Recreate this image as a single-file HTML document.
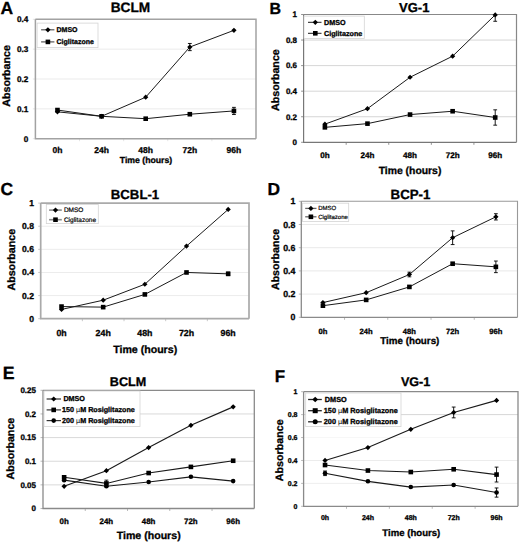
<!DOCTYPE html>
<html><head><meta charset="utf-8"><title>Figure</title>
<style>
html,body{margin:0;padding:0;background:#fff;}
svg{display:block;font-family:"Liberation Sans",sans-serif;text-rendering:geometricPrecision;}
text{stroke:#000;stroke-width:0.3px;} text[font-weight="normal"]{stroke-width:0.2px;} tspan{stroke:none;}
</style></head>
<body>
<svg width="520" height="544" viewBox="0 0 520 544">
<rect width="520" height="544" fill="#fff"/>
<line x1="35.4" y1="108.85" x2="256" y2="108.85" stroke="#ebebeb" stroke-width="1"/>
<line x1="35.4" y1="79" x2="256" y2="79" stroke="#ebebeb" stroke-width="1"/>
<line x1="35.4" y1="49.15" x2="256" y2="49.15" stroke="#ebebeb" stroke-width="1"/>
<line x1="32.9" y1="138.7" x2="35.4" y2="138.7" stroke="#e0e0e0" stroke-width="0.8"/>
<line x1="32.9" y1="108.85" x2="35.4" y2="108.85" stroke="#e0e0e0" stroke-width="0.8"/>
<line x1="32.9" y1="79" x2="35.4" y2="79" stroke="#e0e0e0" stroke-width="0.8"/>
<line x1="32.9" y1="49.15" x2="35.4" y2="49.15" stroke="#e0e0e0" stroke-width="0.8"/>
<line x1="32.9" y1="19.3" x2="35.4" y2="19.3" stroke="#e0e0e0" stroke-width="0.8"/>
<line x1="79.52" y1="138.7" x2="79.52" y2="141.2" stroke="#e0e0e0" stroke-width="0.8"/>
<line x1="123.64" y1="138.7" x2="123.64" y2="141.2" stroke="#e0e0e0" stroke-width="0.8"/>
<line x1="167.76" y1="138.7" x2="167.76" y2="141.2" stroke="#e0e0e0" stroke-width="0.8"/>
<line x1="211.88" y1="138.7" x2="211.88" y2="141.2" stroke="#e0e0e0" stroke-width="0.8"/>
<path d="M35.4 19.3H256V138.7" fill="none" stroke="#a2a2a2" stroke-width="1.5"/>
<path d="M35.4 19.3V138.7H256" fill="none" stroke="#a2a2a2" stroke-width="1.5"/>
<text x="28.3" y="141.53" text-anchor="end" font-size="8.2" font-weight="bold">0</text>
<text x="28.3" y="111.68" text-anchor="end" font-size="8.2" font-weight="bold">0.1</text>
<text x="28.3" y="81.83" text-anchor="end" font-size="8.2" font-weight="bold">0.2</text>
<text x="28.3" y="51.98" text-anchor="end" font-size="8.2" font-weight="bold">0.3</text>
<text x="28.3" y="22.13" text-anchor="end" font-size="8.2" font-weight="bold">0.4</text>
<text x="57.46" y="152.8" text-anchor="middle" font-size="8.5" font-weight="bold">0h</text>
<text x="101.58" y="152.8" text-anchor="middle" font-size="8.5" font-weight="bold">24h</text>
<text x="145.7" y="152.8" text-anchor="middle" font-size="8.5" font-weight="bold">48h</text>
<text x="189.82" y="152.8" text-anchor="middle" font-size="8.5" font-weight="bold">72h</text>
<text x="233.94" y="152.8" text-anchor="middle" font-size="8.5" font-weight="bold">96h</text>
<text x="146" y="162.5" text-anchor="middle" font-size="8.7" font-weight="bold">Time (hours)</text>
<text transform="translate(10.3 75.9) rotate(-90)" text-anchor="middle" font-size="10.7" font-weight="bold">Absorbance</text>
<text x="130.4" y="11.5" text-anchor="middle" font-size="13.7" font-weight="bold">BCLM</text>
<text x="0.6" y="14.4" font-size="17.5" font-weight="bold">A</text>
<clipPath id="clipA"><rect x="35.4" y="18.8" width="220.6" height="119.9"/></clipPath>
<polyline points="57.46,111.83 101.58,116.31 145.7,97.21 189.82,47.06 233.94,30.34" fill="none" stroke="#1a1a1a" stroke-width="1"/>
<g clip-path="url(#clipA)" stroke="#000" stroke-width="0.9"><line x1="189.82" y1="43.48" x2="189.82" y2="50.64"/><line x1="187.92" y1="43.48" x2="191.72" y2="43.48"/><line x1="187.92" y1="50.64" x2="191.72" y2="50.64"/></g>
<path d="M57.46 109.21L60.08 111.83L57.46 114.46L54.84 111.83Z" fill="#000"/>
<path d="M101.58 113.69L104.2 116.31L101.58 118.93L98.96 116.31Z" fill="#000"/>
<path d="M145.7 94.59L148.32 97.21L145.7 99.83L143.08 97.21Z" fill="#000"/>
<path d="M189.82 44.44L192.44 47.06L189.82 49.68L187.2 47.06Z" fill="#000"/>
<path d="M233.94 27.72L236.56 30.34L233.94 32.97L231.32 30.34Z" fill="#000"/>
<polyline points="57.46,110.04 101.58,116.31 145.7,118.7 189.82,114.22 233.94,110.94" fill="none" stroke="#1a1a1a" stroke-width="1"/>
<g clip-path="url(#clipA)" stroke="#000" stroke-width="0.9"><line x1="233.94" y1="107.36" x2="233.94" y2="114.52"/><line x1="232.04" y1="107.36" x2="235.84" y2="107.36"/><line x1="232.04" y1="114.52" x2="235.84" y2="114.52"/></g>
<rect x="55.16" y="107.74" width="4.6" height="4.6" fill="#000"/>
<rect x="99.28" y="114.01" width="4.6" height="4.6" fill="#000"/>
<rect x="143.4" y="116.4" width="4.6" height="4.6" fill="#000"/>
<rect x="187.52" y="111.92" width="4.6" height="4.6" fill="#000"/>
<rect x="231.64" y="108.64" width="4.6" height="4.6" fill="#000"/>
<rect x="37.1" y="23.1" width="60.9" height="24.5" fill="#fff" stroke="#d4d4d4" stroke-width="0.8"/>
<line x1="41.1" y1="29.8" x2="54.4" y2="29.8" stroke="#555" stroke-width="1.2"/>
<path d="M47.9 27.18L50.52 29.8L47.9 32.42L45.28 29.8Z" fill="#000"/>
<text x="56.5" y="32.22" font-size="7" font-weight="bold">DMSO</text>
<line x1="41.1" y1="41.9" x2="54.4" y2="41.9" stroke="#555" stroke-width="1.2"/>
<rect x="45.6" y="39.6" width="4.6" height="4.6" fill="#000"/>
<text x="56.5" y="44.31" font-size="7" font-weight="bold">Ciglitazone</text>
<line x1="303.6" y1="116.74" x2="516.5" y2="116.74" stroke="#d6d6d6" stroke-width="1"/>
<line x1="303.6" y1="91.18" x2="516.5" y2="91.18" stroke="#d6d6d6" stroke-width="1"/>
<line x1="303.6" y1="65.62" x2="516.5" y2="65.62" stroke="#d6d6d6" stroke-width="1"/>
<line x1="303.6" y1="40.06" x2="516.5" y2="40.06" stroke="#d6d6d6" stroke-width="1"/>
<line x1="301.1" y1="142.3" x2="303.6" y2="142.3" stroke="#777" stroke-width="0.8"/>
<line x1="301.1" y1="116.74" x2="303.6" y2="116.74" stroke="#777" stroke-width="0.8"/>
<line x1="301.1" y1="91.18" x2="303.6" y2="91.18" stroke="#777" stroke-width="0.8"/>
<line x1="301.1" y1="65.62" x2="303.6" y2="65.62" stroke="#777" stroke-width="0.8"/>
<line x1="301.1" y1="40.06" x2="303.6" y2="40.06" stroke="#777" stroke-width="0.8"/>
<line x1="301.1" y1="14.5" x2="303.6" y2="14.5" stroke="#777" stroke-width="0.8"/>
<line x1="346.18" y1="142.3" x2="346.18" y2="144.8" stroke="#777" stroke-width="0.8"/>
<line x1="388.76" y1="142.3" x2="388.76" y2="144.8" stroke="#777" stroke-width="0.8"/>
<line x1="431.34" y1="142.3" x2="431.34" y2="144.8" stroke="#777" stroke-width="0.8"/>
<line x1="473.92" y1="142.3" x2="473.92" y2="144.8" stroke="#777" stroke-width="0.8"/>
<path d="M303.6 14.5H516.5V142.3" fill="none" stroke="#888" stroke-width="1.2"/>
<path d="M303.6 14.5V142.3H516.5" fill="none" stroke="#777" stroke-width="1.2"/>
<text x="297" y="145.06" text-anchor="end" font-size="8" font-weight="bold">0</text>
<text x="297" y="119.5" text-anchor="end" font-size="8" font-weight="bold">0.2</text>
<text x="297" y="93.94" text-anchor="end" font-size="8" font-weight="bold">0.4</text>
<text x="297" y="68.38" text-anchor="end" font-size="8" font-weight="bold">0.6</text>
<text x="297" y="42.82" text-anchor="end" font-size="8" font-weight="bold">0.8</text>
<text x="297" y="17.26" text-anchor="end" font-size="8" font-weight="bold">1</text>
<text x="324.89" y="158" text-anchor="middle" font-size="8.1" font-weight="bold">0h</text>
<text x="367.47" y="158" text-anchor="middle" font-size="8.1" font-weight="bold">24h</text>
<text x="410.05" y="158" text-anchor="middle" font-size="8.1" font-weight="bold">48h</text>
<text x="452.63" y="158" text-anchor="middle" font-size="8.1" font-weight="bold">72h</text>
<text x="495.21" y="158" text-anchor="middle" font-size="8.1" font-weight="bold">96h</text>
<text x="410" y="173.6" text-anchor="middle" font-size="10.4" font-weight="bold">Time (hours)</text>
<text transform="translate(279.3 80.1) rotate(-90)" text-anchor="middle" font-size="10.7" font-weight="bold">Absorbance</text>
<text x="414.2" y="11.8" text-anchor="middle" font-size="13" font-weight="bold">VG-1</text>
<text x="269.5" y="13.5" font-size="16" font-weight="bold">B</text>
<clipPath id="clipB"><rect x="303.6" y="14" width="212.9" height="128.3"/></clipPath>
<polyline points="324.89,124.15 367.47,108.69 410.05,77.25 452.63,56.16 495.21,14.88" fill="none" stroke="#1a1a1a" stroke-width="1"/>
<g clip-path="url(#clipB)" stroke="#000" stroke-width="0.9"><line x1="495.21" y1="8.49" x2="495.21" y2="21.27"/><line x1="493.31" y1="8.49" x2="497.11" y2="8.49"/><line x1="493.31" y1="21.27" x2="497.11" y2="21.27"/></g>
<path d="M324.89 121.53L327.51 124.15L324.89 126.77L322.27 124.15Z" fill="#000"/>
<path d="M367.47 106.07L370.09 108.69L367.47 111.31L364.85 108.69Z" fill="#000"/>
<path d="M410.05 74.63L412.67 77.25L410.05 79.87L407.43 77.25Z" fill="#000"/>
<path d="M452.63 53.54L455.25 56.16L452.63 58.78L450.01 56.16Z" fill="#000"/>
<path d="M495.21 12.26L497.83 14.88L495.21 17.51L492.59 14.88Z" fill="#000"/>
<polyline points="324.89,127.35 367.47,123.64 410.05,114.57 452.63,111.24 495.21,117.51" fill="none" stroke="#1a1a1a" stroke-width="1"/>
<g clip-path="url(#clipB)" stroke="#000" stroke-width="0.9"><line x1="495.21" y1="109.84" x2="495.21" y2="125.17"/><line x1="493.31" y1="109.84" x2="497.11" y2="109.84"/><line x1="493.31" y1="125.17" x2="497.11" y2="125.17"/></g>
<rect x="322.59" y="125.05" width="4.6" height="4.6" fill="#000"/>
<rect x="365.17" y="121.34" width="4.6" height="4.6" fill="#000"/>
<rect x="407.75" y="112.27" width="4.6" height="4.6" fill="#000"/>
<rect x="450.33" y="108.94" width="4.6" height="4.6" fill="#000"/>
<rect x="492.91" y="115.21" width="4.6" height="4.6" fill="#000"/>
<rect x="304" y="16.1" width="60.3" height="22.3" fill="#fff" stroke="#d4d4d4" stroke-width="0.8"/>
<line x1="308" y1="22.3" x2="321.5" y2="22.3" stroke="#1a1a1a" stroke-width="1"/>
<path d="M315.3 19.68L317.92 22.3L315.3 24.92L312.68 22.3Z" fill="#000"/>
<text x="324" y="24.78" font-size="7.2" font-weight="bold">DMSO</text>
<line x1="308" y1="33.3" x2="321.5" y2="33.3" stroke="#1a1a1a" stroke-width="1"/>
<rect x="313" y="31" width="4.6" height="4.6" fill="#000"/>
<text x="324" y="35.78" font-size="7.2" font-weight="bold">Ciglitazone</text>
<line x1="40.7" y1="295.58" x2="249" y2="295.58" stroke="#ececec" stroke-width="1"/>
<line x1="40.7" y1="272.46" x2="249" y2="272.46" stroke="#ececec" stroke-width="1"/>
<line x1="40.7" y1="249.34" x2="249" y2="249.34" stroke="#ececec" stroke-width="1"/>
<line x1="40.7" y1="226.22" x2="249" y2="226.22" stroke="#ececec" stroke-width="1"/>
<line x1="38.2" y1="318.7" x2="40.7" y2="318.7" stroke="#bbb" stroke-width="0.8"/>
<line x1="38.2" y1="295.58" x2="40.7" y2="295.58" stroke="#bbb" stroke-width="0.8"/>
<line x1="38.2" y1="272.46" x2="40.7" y2="272.46" stroke="#bbb" stroke-width="0.8"/>
<line x1="38.2" y1="249.34" x2="40.7" y2="249.34" stroke="#bbb" stroke-width="0.8"/>
<line x1="38.2" y1="226.22" x2="40.7" y2="226.22" stroke="#bbb" stroke-width="0.8"/>
<line x1="38.2" y1="203.1" x2="40.7" y2="203.1" stroke="#bbb" stroke-width="0.8"/>
<line x1="82.36" y1="318.7" x2="82.36" y2="321.2" stroke="#bbb" stroke-width="0.8"/>
<line x1="124.02" y1="318.7" x2="124.02" y2="321.2" stroke="#bbb" stroke-width="0.8"/>
<line x1="165.68" y1="318.7" x2="165.68" y2="321.2" stroke="#bbb" stroke-width="0.8"/>
<line x1="207.34" y1="318.7" x2="207.34" y2="321.2" stroke="#bbb" stroke-width="0.8"/>
<path d="M40.7 203.1H249V318.7" fill="none" stroke="#aaa" stroke-width="1.7"/>
<path d="M40.7 203.1V318.7H249" fill="none" stroke="#aaa" stroke-width="1.7"/>
<text x="34" y="321.67" text-anchor="end" font-size="8.6" font-weight="bold">0</text>
<text x="34" y="298.55" text-anchor="end" font-size="8.6" font-weight="bold">0.2</text>
<text x="34" y="275.43" text-anchor="end" font-size="8.6" font-weight="bold">0.4</text>
<text x="34" y="252.31" text-anchor="end" font-size="8.6" font-weight="bold">0.6</text>
<text x="34" y="229.19" text-anchor="end" font-size="8.6" font-weight="bold">0.8</text>
<text x="34" y="206.07" text-anchor="end" font-size="8.6" font-weight="bold">1</text>
<text x="61.53" y="335.8" text-anchor="middle" font-size="8.8" font-weight="bold">0h</text>
<text x="103.19" y="335.8" text-anchor="middle" font-size="8.8" font-weight="bold">24h</text>
<text x="144.85" y="335.8" text-anchor="middle" font-size="8.8" font-weight="bold">48h</text>
<text x="186.51" y="335.8" text-anchor="middle" font-size="8.8" font-weight="bold">72h</text>
<text x="228.17" y="335.8" text-anchor="middle" font-size="8.8" font-weight="bold">96h</text>
<text x="145.2" y="353" text-anchor="middle" font-size="10.6" font-weight="bold">Time (hours)</text>
<text transform="translate(15.3 259.7) rotate(-90)" text-anchor="middle" font-size="10.7" font-weight="bold">Absorbance</text>
<text x="135" y="198.6" text-anchor="middle" font-size="13.2" font-weight="bold">BCBL-1</text>
<text x="0.6" y="195.4" font-size="17.5" font-weight="bold">C</text>
<clipPath id="clipC"><rect x="40.7" y="202.6" width="208.3" height="116.1"/></clipPath>
<polyline points="61.53,309.45 103.19,300.2 144.85,284.25 186.51,246.1 228.17,209.46" fill="none" stroke="#1a1a1a" stroke-width="1"/>
<path d="M61.53 306.83L64.15 309.45L61.53 312.07L58.91 309.45Z" fill="#000"/>
<path d="M103.19 297.58L105.81 300.2L103.19 302.83L100.57 300.2Z" fill="#000"/>
<path d="M144.85 281.63L147.47 284.25L144.85 286.87L142.23 284.25Z" fill="#000"/>
<path d="M186.51 243.48L189.13 246.1L186.51 248.73L183.89 246.1Z" fill="#000"/>
<path d="M228.17 206.84L230.79 209.46L228.17 212.08L225.55 209.46Z" fill="#000"/>
<polyline points="61.53,306.56 103.19,307.14 144.85,294.42 186.51,272.46 228.17,273.85" fill="none" stroke="#1a1a1a" stroke-width="1"/>
<g clip-path="url(#clipC)" stroke="#000" stroke-width="0.9"><line x1="228.17" y1="272.11" x2="228.17" y2="275.58"/><line x1="226.27" y1="272.11" x2="230.07" y2="272.11"/><line x1="226.27" y1="275.58" x2="230.07" y2="275.58"/></g>
<rect x="59.23" y="304.26" width="4.6" height="4.6" fill="#000"/>
<rect x="100.89" y="304.84" width="4.6" height="4.6" fill="#000"/>
<rect x="142.55" y="292.12" width="4.6" height="4.6" fill="#000"/>
<rect x="184.21" y="270.16" width="4.6" height="4.6" fill="#000"/>
<rect x="225.87" y="271.55" width="4.6" height="4.6" fill="#000"/>
<rect x="46.3" y="204.5" width="52" height="19.1" fill="#fff" stroke="#d4d4d4" stroke-width="0.8"/>
<line x1="49.1" y1="210.1" x2="61.8" y2="210.1" stroke="#8a8a8a" stroke-width="1.6"/>
<path d="M55.5 207.48L58.12 210.1L55.5 212.72L52.88 210.1Z" fill="#000"/>
<text x="63.9" y="212.34" font-size="6.5" font-weight="normal">DMSO</text>
<line x1="49.1" y1="219.7" x2="61.8" y2="219.7" stroke="#8a8a8a" stroke-width="1.6"/>
<rect x="53.2" y="217.4" width="4.6" height="4.6" fill="#000"/>
<text x="63.9" y="221.94" font-size="6.5" font-weight="normal">Ciglitazone</text>
<line x1="301.3" y1="294.1" x2="517.5" y2="294.1" stroke="#e9e9e9" stroke-width="1"/>
<line x1="301.3" y1="270.9" x2="517.5" y2="270.9" stroke="#e9e9e9" stroke-width="1"/>
<line x1="301.3" y1="247.7" x2="517.5" y2="247.7" stroke="#e9e9e9" stroke-width="1"/>
<line x1="301.3" y1="224.5" x2="517.5" y2="224.5" stroke="#e9e9e9" stroke-width="1"/>
<line x1="298.8" y1="317.3" x2="301.3" y2="317.3" stroke="#aaa" stroke-width="0.8"/>
<line x1="298.8" y1="294.1" x2="301.3" y2="294.1" stroke="#aaa" stroke-width="0.8"/>
<line x1="298.8" y1="270.9" x2="301.3" y2="270.9" stroke="#aaa" stroke-width="0.8"/>
<line x1="298.8" y1="247.7" x2="301.3" y2="247.7" stroke="#aaa" stroke-width="0.8"/>
<line x1="298.8" y1="224.5" x2="301.3" y2="224.5" stroke="#aaa" stroke-width="0.8"/>
<line x1="298.8" y1="201.3" x2="301.3" y2="201.3" stroke="#aaa" stroke-width="0.8"/>
<line x1="344.54" y1="317.3" x2="344.54" y2="319.8" stroke="#aaa" stroke-width="0.8"/>
<line x1="387.78" y1="317.3" x2="387.78" y2="319.8" stroke="#aaa" stroke-width="0.8"/>
<line x1="431.02" y1="317.3" x2="431.02" y2="319.8" stroke="#aaa" stroke-width="0.8"/>
<line x1="474.26" y1="317.3" x2="474.26" y2="319.8" stroke="#aaa" stroke-width="0.8"/>
<path d="M301.3 201.3H517.5V317.3" fill="none" stroke="#999" stroke-width="1.1"/>
<path d="M301.3 201.3V317.3H517.5" fill="none" stroke="#8a8a8a" stroke-width="1.3"/>
<text x="295.4" y="320.34" text-anchor="end" font-size="8.8" font-weight="bold">0</text>
<text x="295.4" y="297.14" text-anchor="end" font-size="8.8" font-weight="bold">0.2</text>
<text x="295.4" y="273.94" text-anchor="end" font-size="8.8" font-weight="bold">0.4</text>
<text x="295.4" y="250.74" text-anchor="end" font-size="8.8" font-weight="bold">0.6</text>
<text x="295.4" y="227.54" text-anchor="end" font-size="8.8" font-weight="bold">0.8</text>
<text x="295.4" y="204.34" text-anchor="end" font-size="8.8" font-weight="bold">1</text>
<text x="322.92" y="333.8" text-anchor="middle" font-size="7.6" font-weight="bold">0h</text>
<text x="366.16" y="333.8" text-anchor="middle" font-size="7.6" font-weight="bold">24h</text>
<text x="409.4" y="333.8" text-anchor="middle" font-size="7.6" font-weight="bold">48h</text>
<text x="452.64" y="333.8" text-anchor="middle" font-size="7.6" font-weight="bold">72h</text>
<text x="495.88" y="333.8" text-anchor="middle" font-size="7.6" font-weight="bold">96h</text>
<text x="409.8" y="344.2" text-anchor="middle" font-size="9.8" font-weight="bold">Time (hours)</text>
<text transform="translate(278.8 259.4) rotate(-90)" text-anchor="middle" font-size="10.6" font-weight="bold">Absorbance</text>
<text x="410.5" y="198.8" text-anchor="middle" font-size="13.3" font-weight="bold">BCP-1</text>
<text x="267.4" y="195.2" font-size="17.4" font-weight="bold">D</text>
<clipPath id="clipD"><rect x="301.3" y="200.8" width="216.2" height="116.5"/></clipPath>
<polyline points="322.92,302.57 366.16,292.71 409.4,274.5 452.64,237.72 495.88,216.84" fill="none" stroke="#1a1a1a" stroke-width="1"/>
<g clip-path="url(#clipD)" stroke="#000" stroke-width="0.9"><line x1="409.4" y1="272.18" x2="409.4" y2="276.82"/><line x1="407.5" y1="272.18" x2="411.3" y2="272.18"/><line x1="407.5" y1="276.82" x2="411.3" y2="276.82"/></g>
<g clip-path="url(#clipD)" stroke="#000" stroke-width="0.9"><line x1="452.64" y1="230.88" x2="452.64" y2="244.57"/><line x1="450.74" y1="230.88" x2="454.54" y2="230.88"/><line x1="450.74" y1="244.57" x2="454.54" y2="244.57"/></g>
<g clip-path="url(#clipD)" stroke="#000" stroke-width="0.9"><line x1="495.88" y1="213.71" x2="495.88" y2="219.98"/><line x1="493.98" y1="213.71" x2="497.78" y2="213.71"/><line x1="493.98" y1="219.98" x2="497.78" y2="219.98"/></g>
<path d="M322.92 299.95L325.54 302.57L322.92 305.19L320.3 302.57Z" fill="#000"/>
<path d="M366.16 290.09L368.78 292.71L366.16 295.33L363.54 292.71Z" fill="#000"/>
<path d="M409.4 271.87L412.02 274.5L409.4 277.12L406.78 274.5Z" fill="#000"/>
<path d="M452.64 235.1L455.26 237.72L452.64 240.35L450.02 237.72Z" fill="#000"/>
<path d="M495.88 214.22L498.5 216.84L495.88 219.47L493.26 216.84Z" fill="#000"/>
<polyline points="322.92,305.7 366.16,299.9 409.4,286.91 452.64,263.71 495.88,266.84" fill="none" stroke="#1a1a1a" stroke-width="1"/>
<g clip-path="url(#clipD)" stroke="#000" stroke-width="0.9"><line x1="366.16" y1="298.74" x2="366.16" y2="301.06"/><line x1="364.26" y1="298.74" x2="368.06" y2="298.74"/><line x1="364.26" y1="301.06" x2="368.06" y2="301.06"/></g>
<g clip-path="url(#clipD)" stroke="#000" stroke-width="0.9"><line x1="495.88" y1="261.04" x2="495.88" y2="272.64"/><line x1="493.98" y1="261.04" x2="497.78" y2="261.04"/><line x1="493.98" y1="272.64" x2="497.78" y2="272.64"/></g>
<rect x="320.62" y="303.4" width="4.6" height="4.6" fill="#000"/>
<rect x="363.86" y="297.6" width="4.6" height="4.6" fill="#000"/>
<rect x="407.1" y="284.61" width="4.6" height="4.6" fill="#000"/>
<rect x="450.34" y="261.41" width="4.6" height="4.6" fill="#000"/>
<rect x="493.58" y="264.54" width="4.6" height="4.6" fill="#000"/>
<rect x="302.4" y="203.2" width="46.3" height="18.4" fill="#fff" stroke="#d4d4d4" stroke-width="0.8"/>
<line x1="305.2" y1="208.4" x2="316.5" y2="208.4" stroke="#666" stroke-width="1.3"/>
<path d="M310.9 205.78L313.52 208.4L310.9 211.02L308.28 208.4Z" fill="#000"/>
<text x="318.2" y="210.47" font-size="6" font-weight="normal">DMSO</text>
<line x1="305.2" y1="216.8" x2="316.5" y2="216.8" stroke="#666" stroke-width="1.3"/>
<rect x="308.6" y="214.5" width="4.6" height="4.6" fill="#000"/>
<text x="318.2" y="218.87" font-size="6" font-weight="normal">Ciglitazone</text>
<line x1="43" y1="484.86" x2="254.3" y2="484.86" stroke="#d9d9d9" stroke-width="1"/>
<line x1="43" y1="461.22" x2="254.3" y2="461.22" stroke="#d9d9d9" stroke-width="1"/>
<line x1="43" y1="437.58" x2="254.3" y2="437.58" stroke="#d9d9d9" stroke-width="1"/>
<line x1="43" y1="413.94" x2="254.3" y2="413.94" stroke="#d9d9d9" stroke-width="1"/>
<line x1="40.5" y1="508.5" x2="43" y2="508.5" stroke="#aaa" stroke-width="0.8"/>
<line x1="40.5" y1="484.86" x2="43" y2="484.86" stroke="#aaa" stroke-width="0.8"/>
<line x1="40.5" y1="461.22" x2="43" y2="461.22" stroke="#aaa" stroke-width="0.8"/>
<line x1="40.5" y1="437.58" x2="43" y2="437.58" stroke="#aaa" stroke-width="0.8"/>
<line x1="40.5" y1="413.94" x2="43" y2="413.94" stroke="#aaa" stroke-width="0.8"/>
<line x1="40.5" y1="390.3" x2="43" y2="390.3" stroke="#aaa" stroke-width="0.8"/>
<line x1="85.26" y1="508.5" x2="85.26" y2="511" stroke="#aaa" stroke-width="0.8"/>
<line x1="127.52" y1="508.5" x2="127.52" y2="511" stroke="#aaa" stroke-width="0.8"/>
<line x1="169.78" y1="508.5" x2="169.78" y2="511" stroke="#aaa" stroke-width="0.8"/>
<line x1="212.04" y1="508.5" x2="212.04" y2="511" stroke="#aaa" stroke-width="0.8"/>
<path d="M43 390.3H254.3V508.5" fill="none" stroke="#8a8a8a" stroke-width="1.3"/>
<path d="M43 390.3V508.5H254.3" fill="none" stroke="#8a8a8a" stroke-width="1.3"/>
<text x="36" y="511.26" text-anchor="end" font-size="8" font-weight="bold">0</text>
<text x="36" y="487.62" text-anchor="end" font-size="8" font-weight="bold">0.05</text>
<text x="36" y="463.98" text-anchor="end" font-size="8" font-weight="bold">0.1</text>
<text x="36" y="440.34" text-anchor="end" font-size="8" font-weight="bold">0.15</text>
<text x="36" y="416.7" text-anchor="end" font-size="8" font-weight="bold">0.2</text>
<text x="36" y="393.06" text-anchor="end" font-size="8" font-weight="bold">0.25</text>
<text x="64.13" y="524" text-anchor="middle" font-size="7.9" font-weight="bold">0h</text>
<text x="106.39" y="524" text-anchor="middle" font-size="7.9" font-weight="bold">24h</text>
<text x="148.65" y="524" text-anchor="middle" font-size="7.9" font-weight="bold">48h</text>
<text x="190.91" y="524" text-anchor="middle" font-size="7.9" font-weight="bold">72h</text>
<text x="233.17" y="524" text-anchor="middle" font-size="7.9" font-weight="bold">96h</text>
<text x="148.7" y="539" text-anchor="middle" font-size="10.6" font-weight="bold">Time (hours)</text>
<text transform="translate(13.7 448.6) rotate(-90)" text-anchor="middle" font-size="10.7" font-weight="bold">Absorbance</text>
<text x="128" y="385.9" text-anchor="middle" font-size="12.6" font-weight="bold">BCLM</text>
<text x="2.8" y="379" font-size="17.7" font-weight="bold">E</text>
<clipPath id="clipE"><rect x="43" y="389.8" width="211.3" height="118.7"/></clipPath>
<polyline points="64.13,486.28 106.39,470.68 148.65,447.51 190.91,425.29 233.17,406.85" fill="none" stroke="#1a1a1a" stroke-width="1.15"/>
<path d="M64.13 483.66L66.75 486.28L64.13 488.9L61.51 486.28Z" fill="#000"/>
<path d="M106.39 468.05L109.01 470.68L106.39 473.3L103.77 470.68Z" fill="#000"/>
<path d="M148.65 444.89L151.27 447.51L148.65 450.13L146.03 447.51Z" fill="#000"/>
<path d="M190.91 422.67L193.53 425.29L190.91 427.91L188.29 425.29Z" fill="#000"/>
<path d="M233.17 404.23L235.79 406.85L233.17 409.47L230.55 406.85Z" fill="#000"/>
<polyline points="64.13,477.3 106.39,483.44 148.65,473.04 190.91,466.89 233.17,460.75" fill="none" stroke="#1a1a1a" stroke-width="1.15"/>
<g clip-path="url(#clipE)" stroke="#000" stroke-width="0.9"><line x1="106.39" y1="480.13" x2="106.39" y2="486.75"/><line x1="104.49" y1="480.13" x2="108.29" y2="480.13"/><line x1="104.49" y1="486.75" x2="108.29" y2="486.75"/></g>
<rect x="61.83" y="475" width="4.6" height="4.6" fill="#000"/>
<rect x="104.09" y="481.14" width="4.6" height="4.6" fill="#000"/>
<rect x="146.35" y="470.74" width="4.6" height="4.6" fill="#000"/>
<rect x="188.61" y="464.59" width="4.6" height="4.6" fill="#000"/>
<rect x="230.87" y="458.45" width="4.6" height="4.6" fill="#000"/>
<polyline points="64.13,480.13 106.39,486.28 148.65,482.02 190.91,476.82 233.17,481.08" fill="none" stroke="#1a1a1a" stroke-width="1.15"/>
<circle cx="64.13" cy="480.13" r="2.3" fill="#000"/>
<circle cx="106.39" cy="486.28" r="2.3" fill="#000"/>
<circle cx="148.65" cy="482.02" r="2.3" fill="#000"/>
<circle cx="190.91" cy="476.82" r="2.3" fill="#000"/>
<circle cx="233.17" cy="481.08" r="2.3" fill="#000"/>
<rect x="44" y="391" width="96" height="35.4" fill="#fff" stroke="#d4d4d4" stroke-width="0.8"/>
<line x1="46.6" y1="399" x2="61" y2="399" stroke="#333" stroke-width="1.2"/>
<path d="M53.7 396.38L56.32 399L53.7 401.62L51.08 399Z" fill="#000"/>
<text x="63.4" y="401.48" font-size="7.2" font-weight="bold">DMSO</text>
<line x1="46.6" y1="409.9" x2="61" y2="409.9" stroke="#333" stroke-width="1.2"/>
<rect x="51.4" y="407.6" width="4.6" height="4.6" fill="#000"/>
<text x="62" y="412.38" font-size="7.2" font-weight="bold">150 <tspan font-weight="normal">µ</tspan>M Rosiglitazone</text>
<line x1="46.6" y1="420.6" x2="61" y2="420.6" stroke="#333" stroke-width="1.2"/>
<circle cx="53.7" cy="420.6" r="2.3" fill="#000"/>
<text x="62" y="423.08" font-size="7.2" font-weight="bold">200 <tspan font-weight="normal">µ</tspan>M Rosiglitazone</text>
<line x1="303.6" y1="483.38" x2="518" y2="483.38" stroke="#eeeeee" stroke-width="1"/>
<line x1="303.6" y1="460.46" x2="518" y2="460.46" stroke="#ececec" stroke-width="1"/>
<line x1="303.6" y1="437.54" x2="518" y2="437.54" stroke="#f7f7f7" stroke-width="1"/>
<line x1="303.6" y1="414.62" x2="518" y2="414.62" stroke="#d6d6d6" stroke-width="1"/>
<line x1="301.1" y1="506.3" x2="303.6" y2="506.3" stroke="#aaa" stroke-width="0.8"/>
<line x1="301.1" y1="483.38" x2="303.6" y2="483.38" stroke="#aaa" stroke-width="0.8"/>
<line x1="301.1" y1="460.46" x2="303.6" y2="460.46" stroke="#aaa" stroke-width="0.8"/>
<line x1="301.1" y1="437.54" x2="303.6" y2="437.54" stroke="#aaa" stroke-width="0.8"/>
<line x1="301.1" y1="414.62" x2="303.6" y2="414.62" stroke="#aaa" stroke-width="0.8"/>
<line x1="301.1" y1="391.7" x2="303.6" y2="391.7" stroke="#aaa" stroke-width="0.8"/>
<line x1="346.48" y1="506.3" x2="346.48" y2="508.8" stroke="#aaa" stroke-width="0.8"/>
<line x1="389.36" y1="506.3" x2="389.36" y2="508.8" stroke="#aaa" stroke-width="0.8"/>
<line x1="432.24" y1="506.3" x2="432.24" y2="508.8" stroke="#aaa" stroke-width="0.8"/>
<line x1="475.12" y1="506.3" x2="475.12" y2="508.8" stroke="#aaa" stroke-width="0.8"/>
<path d="M303.6 391.7H518V506.3" fill="none" stroke="#8a8a8a" stroke-width="1.3"/>
<path d="M303.6 391.7V506.3H518" fill="none" stroke="#8a8a8a" stroke-width="1.3"/>
<text x="297.5" y="508.72" text-anchor="end" font-size="7" font-weight="bold">0</text>
<text x="297.5" y="485.8" text-anchor="end" font-size="7" font-weight="bold">0.2</text>
<text x="297.5" y="462.88" text-anchor="end" font-size="7" font-weight="bold">0.4</text>
<text x="297.5" y="439.96" text-anchor="end" font-size="7" font-weight="bold">0.6</text>
<text x="297.5" y="417.04" text-anchor="end" font-size="7" font-weight="bold">0.8</text>
<text x="297.5" y="394.12" text-anchor="end" font-size="7" font-weight="bold">1</text>
<text x="325.04" y="519.5" text-anchor="middle" font-size="7" font-weight="bold">0h</text>
<text x="367.92" y="519.5" text-anchor="middle" font-size="7" font-weight="bold">24h</text>
<text x="410.8" y="519.5" text-anchor="middle" font-size="7" font-weight="bold">48h</text>
<text x="453.68" y="519.5" text-anchor="middle" font-size="7" font-weight="bold">72h</text>
<text x="496.56" y="519.5" text-anchor="middle" font-size="7" font-weight="bold">96h</text>
<text x="411.3" y="535.6" text-anchor="middle" font-size="9.6" font-weight="bold">Time (hours)</text>
<text transform="translate(282.5 450.3) rotate(-90)" text-anchor="middle" font-size="10.7" font-weight="bold">Absorbance</text>
<text x="415.6" y="386.3" text-anchor="middle" font-size="12.6" font-weight="bold">VG-1</text>
<text x="274.7" y="381.9" font-size="17" font-weight="bold">F</text>
<clipPath id="clipF"><rect x="303.6" y="391.2" width="214.4" height="115.1"/></clipPath>
<polyline points="325.04,460.46 367.92,447.51 410.8,429.29 453.68,412.44 496.56,400.41" fill="none" stroke="#1a1a1a" stroke-width="1.15"/>
<g clip-path="url(#clipF)" stroke="#000" stroke-width="0.9"><line x1="453.68" y1="407.06" x2="453.68" y2="417.83"/><line x1="451.78" y1="407.06" x2="455.58" y2="407.06"/><line x1="451.78" y1="417.83" x2="455.58" y2="417.83"/></g>
<path d="M325.04 457.84L327.66 460.46L325.04 463.08L322.42 460.46Z" fill="#000"/>
<path d="M367.92 444.89L370.54 447.51L367.92 450.13L365.3 447.51Z" fill="#000"/>
<path d="M410.8 426.67L413.42 429.29L410.8 431.91L408.18 429.29Z" fill="#000"/>
<path d="M453.68 409.82L456.3 412.44L453.68 415.06L451.06 412.44Z" fill="#000"/>
<path d="M496.56 397.79L499.18 400.41L496.56 403.03L493.94 400.41Z" fill="#000"/>
<polyline points="325.04,465.04 367.92,470.54 410.8,472.03 453.68,469.28 496.56,474.56" fill="none" stroke="#1a1a1a" stroke-width="1.15"/>
<g clip-path="url(#clipF)" stroke="#000" stroke-width="0.9"><line x1="496.56" y1="467.11" x2="496.56" y2="482"/><line x1="494.66" y1="467.11" x2="498.46" y2="467.11"/><line x1="494.66" y1="482" x2="498.46" y2="482"/></g>
<rect x="322.74" y="462.74" width="4.6" height="4.6" fill="#000"/>
<rect x="365.62" y="468.24" width="4.6" height="4.6" fill="#000"/>
<rect x="408.5" y="469.73" width="4.6" height="4.6" fill="#000"/>
<rect x="451.38" y="466.98" width="4.6" height="4.6" fill="#000"/>
<rect x="494.26" y="472.26" width="4.6" height="4.6" fill="#000"/>
<polyline points="325.04,473.3 367.92,481.32 410.8,487.05 453.68,484.98 496.56,492.55" fill="none" stroke="#1a1a1a" stroke-width="1.15"/>
<g clip-path="url(#clipF)" stroke="#000" stroke-width="0.9"><line x1="325.04" y1="471" x2="325.04" y2="475.59"/><line x1="323.14" y1="471" x2="326.94" y2="471"/><line x1="323.14" y1="475.59" x2="326.94" y2="475.59"/></g>
<g clip-path="url(#clipF)" stroke="#000" stroke-width="0.9"><line x1="496.56" y1="487.96" x2="496.56" y2="497.13"/><line x1="494.66" y1="487.96" x2="498.46" y2="487.96"/><line x1="494.66" y1="497.13" x2="498.46" y2="497.13"/></g>
<circle cx="325.04" cy="473.3" r="2.3" fill="#000"/>
<circle cx="367.92" cy="481.32" r="2.3" fill="#000"/>
<circle cx="410.8" cy="487.05" r="2.3" fill="#000"/>
<circle cx="453.68" cy="484.98" r="2.3" fill="#000"/>
<circle cx="496.56" cy="492.55" r="2.3" fill="#000"/>
<rect x="305.7" y="393" width="95.3" height="33.6" fill="#fff" stroke="#d4d4d4" stroke-width="0.8"/>
<line x1="308.1" y1="399.5" x2="321.8" y2="399.5" stroke="#222" stroke-width="1.3"/>
<path d="M315.2 396.65L318.05 399.5L315.2 402.35L312.35 399.5Z" fill="#000"/>
<text x="324.8" y="402.02" font-size="7.3" font-weight="bold">DMSO</text>
<line x1="308.1" y1="410.7" x2="321.8" y2="410.7" stroke="#222" stroke-width="1.3"/>
<rect x="312.7" y="408.2" width="5" height="5" fill="#000"/>
<text x="323.8" y="413.22" font-size="7.3" font-weight="bold">150 <tspan font-weight="normal">µ</tspan>M Rosiglitazone</text>
<line x1="308.1" y1="421.8" x2="321.8" y2="421.8" stroke="#222" stroke-width="1.3"/>
<circle cx="315.2" cy="421.8" r="2.5" fill="#000"/>
<text x="323.8" y="424.32" font-size="7.3" font-weight="bold">200 <tspan font-weight="normal">µ</tspan>M Rosiglitazone</text>
</svg>
</body></html>
